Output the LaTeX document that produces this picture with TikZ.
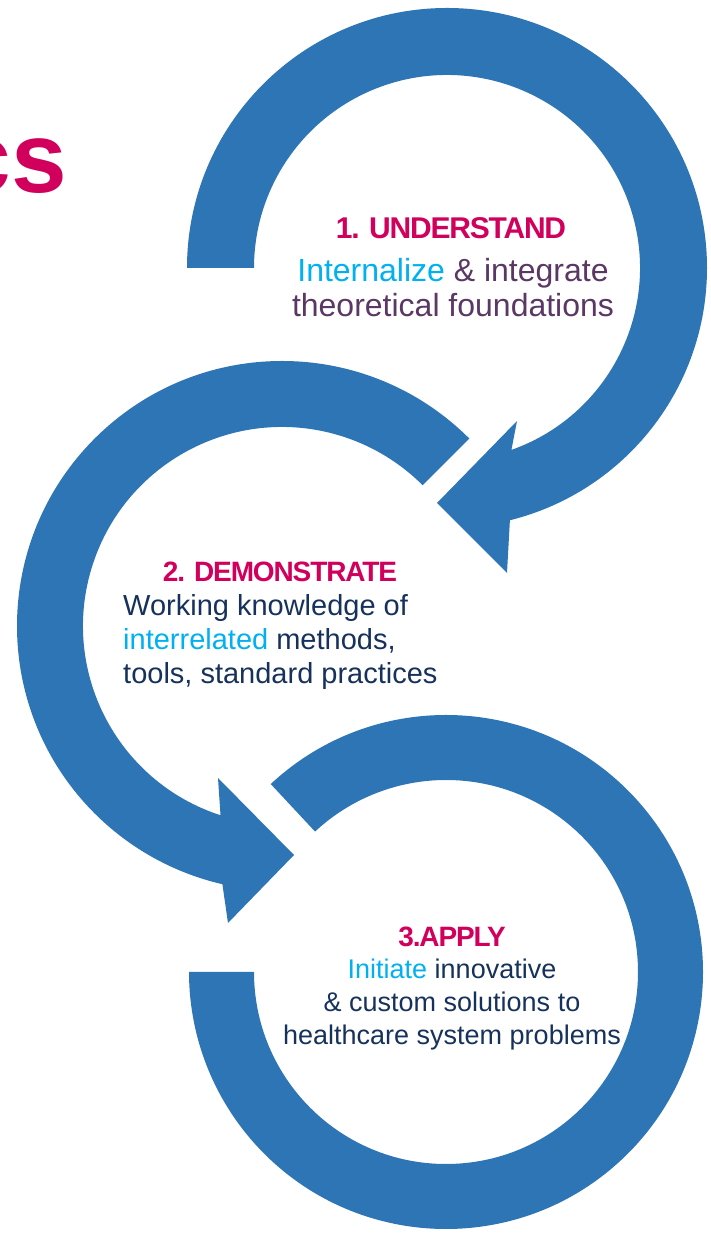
\documentclass[tikz,border=0pt]{standalone}
\usepackage{fontspec}
\setmainfont{Liberation Sans}
\newfontfamily\headfont[LetterSpace=-4]{Liberation Sans}
\usetikzlibrary{calc}

\definecolor{ringblue}{RGB}{46,117,182}
\definecolor{headred}{RGB}{208,0,92}
\definecolor{skyblue}{RGB}{0,176,240}
\definecolor{plum}{RGB}{90,55,100}
\definecolor{navy}{RGB}{22,50,92}

\tikzset{
  ring/.style={fill=ringblue, draw=none},
  title/.style={inner sep=0, text=headred, font=\headfont\bfseries\fontsize{28}{30}\selectfont},
  body/.style={inner sep=0, align=center}
}

\begin{document}
\begin{tikzpicture}[line cap=round,line join=round,x=1pt,y=1pt]
\useasboundingbox (0,0) rectangle (710,1243);
\clip (0,0) rectangle (710,1243);

% centres of the rings
\coordinate (C1) at (447,975);
\coordinate (C2) at (282,617);
\coordinate (C3) at (446,271);

% arrow heads
\coordinate (A1low) at (507,670);
\coordinate (A1tip) at (437,740);
\coordinate (A1up) at (517,822);

\coordinate (A2low) at (228,320);
\coordinate (A2tip) at (294,388);
\coordinate (A2up) at (218,465);

% ring 1
\fill[ring] ($(C1)+(180:260)$) arc[start angle=180, end angle=-76, radius=260]
  -- (A1low) -- (A1tip) -- (A1up) -- ($(C1)+(-70.5:193)$)
  arc[start angle=-70.5, end angle=180, radius=193] -- cycle;

% ring 2
\fill[ring] ($(C2)+(45:265)$) arc[start angle=45, end angle=257, radius=265]
  -- (A2low) -- (A2tip) -- (A2up) -- ($(C2)+(252:199)$)
  arc[start angle=252, end angle=45, radius=199] -- cycle;

% ring 3
\fill[ring] ($(C3)+(133:257)$) arc[start angle=133, end angle=-180, radius=257]
  -- ($(C3)+(180:192)$)
  arc[start angle=-180, end angle=133, radius=192] -- cycle;

\node[anchor=base east, inner sep=0, text=headred, font=\bfseries\fontsize{100}{100}\selectfont] (topic) at (67,1050) {cs};

\node[title, font=\headfont\bfseries\fontsize{30}{32}\selectfont] (under) at (451,1015) {1. UNDERSTAND};
\node[body, text=plum, font=\fontsize{32}{35}\selectfont] (underTxt) at (453,955)
  {\textcolor{skyblue}{Internalize} \& integrate\\theoretical foundations};

\node[title] (demo) at (280,671) {2. DEMONSTRATE};
\node[body, align=left, anchor=west, text=navy, font=\fontsize{29}{34}\selectfont] (demoTxt) at (123,601)
  {Working knowledge of\\\textcolor{skyblue}{interrelated} methods,\\tools, standard practices};

\node[title] (apply) at (452,306) {3.APPLY};
\node[body, text=navy, font=\fontsize{27}{33}\selectfont] (applyTxt) at (452,238)
  {\textcolor{skyblue}{Initiate} innovative\\\& custom solutions to\\healthcare system problems};

\end{tikzpicture}
\end{document}
